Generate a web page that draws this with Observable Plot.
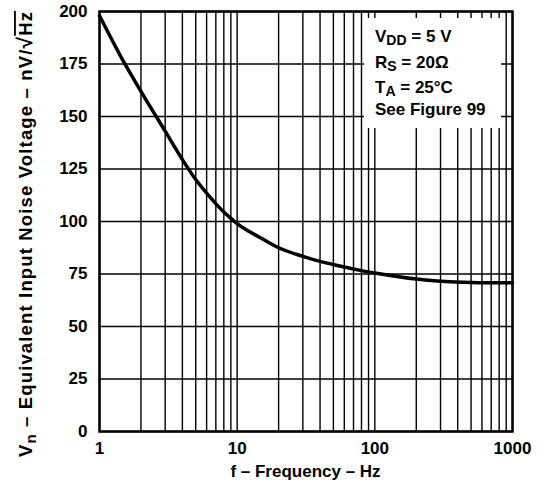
<!DOCTYPE html>
<html><head><meta charset="utf-8">
<script src="https://cdn.jsdelivr.net/npm/d3@7"></script>
<script src="https://cdn.jsdelivr.net/npm/@observablehq/plot@0.6"></script>
<style>body{margin:0;background:#fff} svg{display:block}</style>
</head><body><div id="chart"></div>
<script>
// Data
const freq  = [1, 1.5, 2, 3, 4, 5, 6, 7, 8, 9, 10, 15, 20, 30, 40, 50, 60, 80, 100, 200, 300, 500, 1000];
const noise = [198, 176, 162, 143, 129.5, 120, 113.5, 108.5, 104.5, 101.5, 99, 92, 87.5, 83.4, 81, 79.5, 78.3, 76.6, 75.5, 72.6, 71.6, 71, 70.8];
const xTicks = [1, 10, 100, 1000];
const xGrid = [1,2,3,4,5,6,7,8,9,10,20,30,40,50,60,70,80,90,100,200,300,400,500,600,700,800,900,1000];
const yTicks = [0, 25, 50, 75, 100, 125, 150, 175, 200];
const legendLines = [
  {main: "V", sub: "DD", rest: " = 5 V"},
  {main: "R", sub: "S", rest: " = 20Ω"},
  {main: "T", sub: "A", rest: " = 25°C"},
  {main: "See Figure 99", sub: "", rest: ""}
];
const xLabel = "f – Frequency – Hz";

const data = freq.map((f, i) => ({f, v: noise[i]}));
const W = 542, H = 486, mL = 99, mR = 30, mT = 11, mB = 55;
const FONT = "'Liberation Sans', Arial, Helvetica, sans-serif";

const plot = Plot.plot({
  width: W, height: H,
  marginLeft: mL, marginRight: mR, marginTop: mT, marginBottom: mB,
  style: {fontFamily: FONT, fontSize: "17px", fontWeight: "bold", color: "black", background: "white"},
  x: {type: "log", domain: [1, 1000]},
  y: {domain: [0, 200]},
  marks: [
    Plot.ruleX(xGrid, {stroke: "black", strokeWidth: 1.4}),
    Plot.ruleY(yTicks, {stroke: "black", strokeWidth: 1.4}),
    Plot.axisX(xTicks, {tickSize: 0, tickPadding: 10, tickFormat: d => String(d), label: null}),
    Plot.axisY(yTicks, {tickSize: 0, tickPadding: 12, tickFormat: d => String(d), label: null}),
    Plot.line(data, {x: "f", y: "v", stroke: "black", strokeWidth: 3.5, curve: "monotone-x"}),
    Plot.frame({stroke: "black", strokeWidth: 2.5})
  ]
});
document.getElementById("chart").appendChild(plot);

const svg = d3.select(plot);
const fx0 = mL, fx1 = W - mR, fy0 = mT, fy1 = H - mB;

// legend box (masks grid)
svg.append("rect").attr("x", fx0 + 265).attr("y", fy0 + 7)
  .attr("width", 137).attr("height", 110).attr("fill", "white");
const leg = svg.append("g").attr("text-anchor", "start")
  .style("font-family", FONT).style("font-weight", "bold").style("font-size", "17px");
const baselines = [42, 68, 93, 115];
legendLines.forEach((l, i) => {
  const t = leg.append("text").attr("x", fx0 + 276).attr("y", baselines[i]);
  t.append("tspan").text(l.main);
  if (l.sub) {
    t.append("tspan").attr("dy", 3).style("font-size", "14px").text(l.sub);
    t.append("tspan").attr("dy", -3).text(l.rest);
  }
});

// x label
svg.append("text").attr("x", (fx0 + fx1) / 2).attr("y", 477)
  .attr("text-anchor", "middle").style("font-family", FONT).style("font-weight", "bold").style("font-size", "17px")
  .text(xLabel);

// y label
const yl = svg.append("text").attr("transform", `translate(32, 234) rotate(-90)`)
  .attr("text-anchor", "middle").style("font-family", FONT).style("font-weight", "bold")
  .style("font-size", "18.5px");
yl.append("tspan").text("V");
yl.append("tspan").attr("dy", 4).style("font-size", "15px").text("n");
yl.append("tspan").attr("dy", -4).text(" – Equivalent Input Noise Voltage – nV/");
yl.append("tspan").style("font-size", "21px").text("√");
yl.append("tspan").style("text-decoration", "overline").text("Hz");
// stretch to the span seen in the reference (~446 px)
try {
  const node = yl.node();
  const len = node.getComputedTextLength();
  const n = node.textContent.length;
  if (len > 0 && len < 446) yl.style("letter-spacing", ((446 - len) / n).toFixed(2) + "px");
} catch (e) {}
</script>
</body></html>
